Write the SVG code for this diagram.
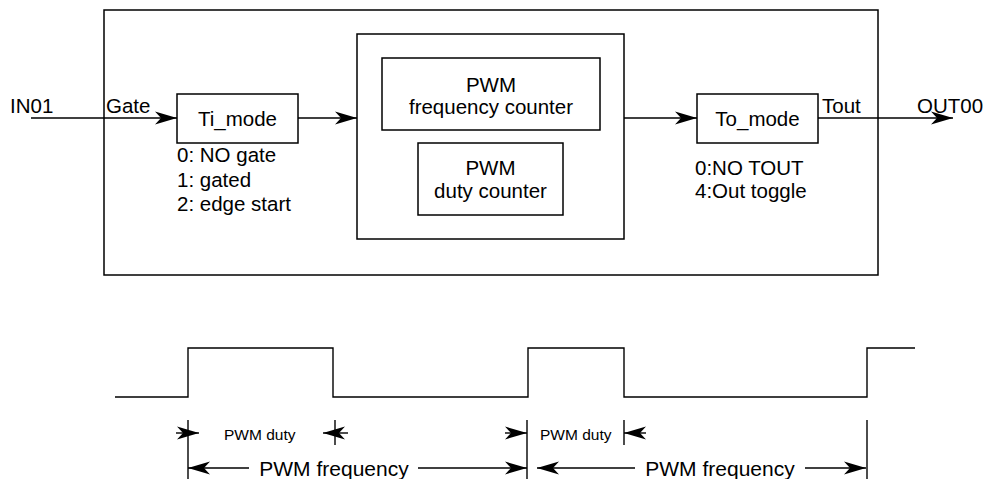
<svg xmlns="http://www.w3.org/2000/svg" width="986" height="479" viewBox="0 0 986 479">
<style>
  .box { fill: none; stroke: #000; stroke-width: 1.5; }
  .ln { fill: none; stroke: #000; stroke-width: 1.4; }
  .t { font-family: "Liberation Sans", Arial, sans-serif; font-size: 20.5px; fill: #000; }
  .c { text-anchor: middle; }
  .s { font-family: "Liberation Sans", Arial, sans-serif; font-size: 15.5px; fill: #000; }
  .f { font-family: "Liberation Sans", Arial, sans-serif; font-size: 21px; fill: #000; text-anchor: middle; }
</style>
<defs>
  <marker id="arr" viewBox="0 0 22 14" refX="22" refY="7" markerWidth="22" markerHeight="14" markerUnits="userSpaceOnUse" orient="auto-start-reverse">
    <path d="M0,0.5 L22,7 L0,13.5 L6,7 Z" fill="#000"/>
  </marker>
</defs>
<rect width="986" height="479" fill="#fff"/>

<g id="outer-block">
  <rect class="box" x="104" y="10" width="774" height="265"/>
</g>

<g id="ti-mode">
  <rect class="box" x="177" y="94" width="121" height="49"/>
  <text class="t c" x="237.5" y="126">Ti_mode</text>
  <text class="t" x="177" y="162">0: NO gate</text>
  <text class="t" x="177" y="187">1: gated</text>
  <text class="t" x="177" y="211">2: edge start</text>
</g>

<g id="pwm-counters">
  <rect class="box" x="357" y="34" width="267" height="205"/>
  <g id="freq-counter">
    <rect class="box" x="382" y="58" width="218" height="72"/>
    <text class="t c" x="491" y="92">PWM</text>
    <text class="t c" x="491" y="114">frequency counter</text>
  </g>
  <g id="duty-counter">
    <rect class="box" x="418" y="143" width="145" height="72"/>
    <text class="t c" x="490.5" y="175">PWM</text>
    <text class="t c" x="490.5" y="198">duty counter</text>
  </g>
</g>

<g id="to-mode">
  <rect class="box" x="697" y="94" width="121" height="49"/>
  <text class="t c" x="757.5" y="126">To_mode</text>
  <text class="t" x="695" y="175">0:NO TOUT</text>
  <text class="t" x="695" y="198">4:Out toggle</text>
</g>

<g id="connectors">
  <line class="ln" x1="31" y1="118" x2="177" y2="118" marker-end="url(#arr)"/>
  <line class="ln" x1="298" y1="118" x2="357" y2="118" marker-end="url(#arr)"/>
  <line class="ln" x1="624" y1="118" x2="697" y2="118" marker-end="url(#arr)"/>
  <line class="ln" x1="818" y1="118" x2="953" y2="118" marker-end="url(#arr)"/>
  <text class="t" x="10" y="113">IN01</text>
  <text class="t" x="106" y="113">Gate</text>
  <text class="t" x="822" y="113">Tout</text>
  <text class="t" x="917" y="113">OUT00</text>
</g>

<g id="waveform">
  <polyline class="ln" points="115,397 188,397 188,348 333,348 333,397 528,397 528,348 624,348 624,397 867,397 867,348 915,348"/>
</g>

<g id="dimensions">
  <line class="ln" x1="188" y1="420" x2="188" y2="479"/>
  <line class="ln" x1="335" y1="420" x2="335" y2="445"/>
  <line class="ln" x1="527" y1="420" x2="527" y2="479"/>
  <line class="ln" x1="624" y1="420" x2="624" y2="445"/>
  <line class="ln" x1="867" y1="420" x2="867" y2="479"/>

  <line class="ln" x1="176" y1="433" x2="199" y2="433" marker-end="url(#arr)"/>
  <line class="ln" x1="348" y1="433" x2="323" y2="433" marker-end="url(#arr)"/>
  <line class="ln" x1="505" y1="433" x2="527" y2="433" marker-end="url(#arr)"/>
  <line class="ln" x1="646" y1="433" x2="624" y2="433" marker-end="url(#arr)"/>
  <text class="s" x="224" y="440">PWM duty</text>
  <text class="s" x="540" y="440">PWM duty</text>

  <line class="ln" x1="249" y1="468" x2="188" y2="468" marker-end="url(#arr)"/>
  <line class="ln" x1="418" y1="468" x2="527" y2="468" marker-end="url(#arr)"/>
  <line class="ln" x1="635" y1="468" x2="537" y2="468" marker-end="url(#arr)"/>
  <line class="ln" x1="805" y1="468" x2="866" y2="468" marker-end="url(#arr)"/>
  <text class="f" x="334" y="476">PWM frequency</text>
  <text class="f" x="720" y="476">PWM frequency</text>
</g>
</svg>
